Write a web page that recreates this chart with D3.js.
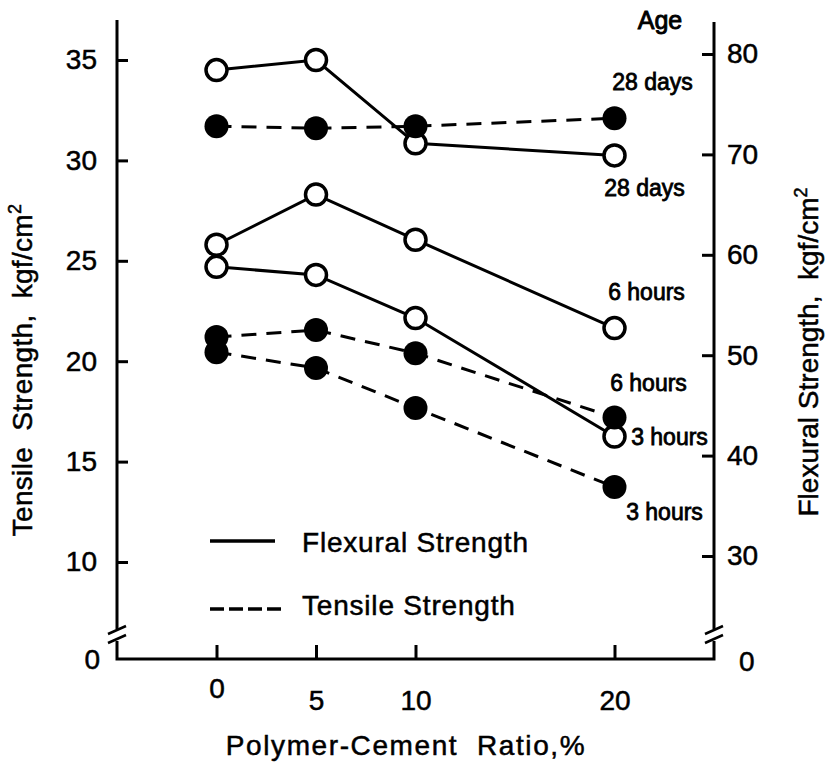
<!DOCTYPE html>
<html><head><meta charset="utf-8">
<script src="https://cdn.jsdelivr.net/npm/d3@7/dist/d3.min.js"></script>
<style>
body{margin:0;background:#fff;}
svg{display:block;font-family:"Liberation Sans",Arial,Helvetica,sans-serif;}
svg text{white-space:pre;stroke:#000;stroke-width:0.5px;}
</style></head><body>
<svg id="c" width="832" height="768"></svg>
<script>
// ---------- data ----------
const ratios = [0, 5, 10, 20];                 // polymer-cement ratio, %
const xTicks = [0, 5, 10, 20];
const leftTicks = [10, 15, 20, 25, 30, 35];    // tensile, kgf/cm2
const rightTicks = [30, 40, 50, 60, 70, 80];   // flexural, kgf/cm2
const breakTickLabel = "0";

const flex28d = [78.4, 79.4, 71.1, 69.9];
const flex6h  = [61.0, 66.0, 61.5, 52.7];
const flex3h  = [58.8, 58.0, 53.7, 41.9];
const tens28d = [31.7, 31.6, 31.7, 32.1];
const tens6h  = [21.2, 21.55, 20.4, 17.2];
const tens3h  = [20.45, 19.66, 17.67, 13.73];

const ageLabels = ["28 days", "6 hours", "3 hours"];
const legendLabels = ["Flexural Strength", "Tensile Strength"];

// ---------- layout ----------
const svg = d3.select("#c");
const axisBottomY = 659;
const x = d3.scaleLinear().domain([-5, 25]).range([117, 714]);
const yL = d3.scaleLinear().domain([10, 35]).range([562, 60]);
const yR = d3.scaleLinear().domain([30, 80]).range([556, 54]);
const leftX = x(-5), rightX = x(25);

const flexSeries = [
  {vals: flex28d, label: ageLabels[0], dx: 30, dy: 33},
  {vals: flex6h,  label: ageLabels[1], dx: 32, dy: -36},
  {vals: flex3h,  label: ageLabels[2], dx: 55, dy: 0}
];
const tensSeries = [
  {vals: tens28d, label: ageLabels[0], dx: 38, dy: -36},
  {vals: tens6h,  label: ageLabels[1], dx: 34, dy: -34},
  {vals: tens3h,  label: ageLabels[2], dx: 50, dy: 25}
];

const FS = 28;

// ---------- axes ----------
const gL = svg.append("g").attr("transform", `translate(${leftX},0)`)
  .call(d3.axisLeft(yL).tickValues(leftTicks).tickSizeInner(-11).tickSizeOuter(0).tickPadding(20));
const gR = svg.append("g").attr("transform", `translate(${rightX},0)`)
  .call(d3.axisRight(yR).tickValues(rightTicks).tickSizeInner(-12).tickSizeOuter(0).tickPadding(13));
const gB = svg.append("g").attr("transform", `translate(0,${axisBottomY})`)
  .call(d3.axisBottom(x).tickValues(xTicks).tickSizeInner(-14).tickSizeOuter(0).tickPadding(31));
[gL, gR, gB].forEach(g => {
  g.select(".domain").remove();
  g.selectAll(".tick line").attr("stroke", "#000").attr("stroke-width", 3);
  g.selectAll(".tick text").attr("fill", "#000").attr("font-size", FS).attr("font-family", null);
  g.attr("font-family", null).attr("font-size", null);
});
gB.selectAll(".tick text").filter(d => d === 0).attr("y", 19);

// axis lines with breaks
const ax = svg.append("g").attr("stroke", "#000").attr("stroke-width", 3).attr("fill", "none");
ax.append("path").attr("d", `M${leftX},20 V629 M${leftX},641 V${axisBottomY} H${rightX} V641 M${rightX},629 V22`);
// break slashes
[[leftX, 630], [leftX, 639], [rightX, 630], [rightX, 639]].forEach(([bx, by]) => {
  ax.append("line").attr("x1", bx - 9).attr("y1", by + 4).attr("x2", bx + 9).attr("y2", by - 4)
    .attr("stroke-width", 2.5);
});
// zero labels at break
svg.append("text").attr("x", 100).attr("y", axisBottomY).attr("dy", "0.35em")
  .attr("text-anchor", "end").attr("font-size", FS).text(breakTickLabel);
svg.append("text").attr("x", 739).attr("y", axisBottomY + 2).attr("dy", "0.35em")
  .attr("text-anchor", "start").attr("font-size", FS).text(breakTickLabel);

// ---------- lines ----------
const lineF = d3.line().x((d, i) => x(ratios[i])).y(d => yR(d));
const lineT = d3.line().x((d, i) => x(ratios[i])).y(d => yL(d));
const lines = svg.append("g").attr("fill", "none").attr("stroke", "#000").attr("stroke-width", 3);
flexSeries.forEach(s => lines.append("path").attr("d", lineF(s.vals)));
tensSeries.forEach(s => lines.append("path").attr("d", lineT(s.vals)).attr("stroke-dasharray", "15,10"));

// ---------- markers ----------
const mk = svg.append("g");
flexSeries.forEach(s => {
  mk.selectAll(null).data(s.vals).enter().append("circle")
    .attr("cx", (d, i) => x(ratios[i])).attr("cy", d => yR(d)).attr("r", 10.5)
    .attr("fill", "#fff").attr("stroke", "#000").attr("stroke-width", 3.5);
});
tensSeries.forEach(s => {
  mk.selectAll(null).data(s.vals).enter().append("circle")
    .attr("cx", (d, i) => x(ratios[i])).attr("cy", d => yL(d)).attr("r", 12)
    .attr("fill", "#000");
});

// ---------- age labels ----------
const lab = svg.append("g").attr("font-size", 23).attr("text-anchor", "middle");
const last = ratios.length - 1;
flexSeries.forEach(s => lab.append("text")
  .attr("x", x(ratios[last]) + s.dx).attr("y", yR(s.vals[last]) + s.dy).attr("dy", "0.35em").text(s.label));
tensSeries.forEach(s => lab.append("text")
  .attr("x", x(ratios[last]) + s.dx).attr("y", yL(s.vals[last]) + s.dy).attr("dy", "0.35em").text(s.label));
lab.selectAll("text").style("stroke-width", "0.8px");
svg.append("text").attr("x", 660).attr("y", 20).attr("dy", "0.35em").attr("text-anchor", "middle")
  .attr("font-size", 25).style("stroke-width", "0.9px").text("Age");

// ---------- legend ----------
const lg = svg.append("g");
lg.append("line").attr("x1", 210).attr("x2", 275).attr("y1", 541).attr("y2", 541)
  .attr("stroke", "#000").attr("stroke-width", 3.5);
lg.append("line").attr("x1", 210).attr("x2", 283).attr("y1", 609).attr("y2", 609)
  .attr("stroke", "#000").attr("stroke-width", 3.5).attr("stroke-dasharray", "14,5");
lg.append("text").attr("x", 302).attr("y", 542).attr("dy", "0.35em").attr("font-size", FS)
  .attr("letter-spacing", 0.8).text(legendLabels[0]);
lg.append("text").attr("x", 302).attr("y", 605).attr("dy", "0.35em").attr("font-size", FS)
  .attr("letter-spacing", 0.8).text(legendLabels[1]);

// ---------- axis titles ----------
const lt = svg.append("text").attr("transform", "translate(22,370) rotate(-90)")
  .attr("text-anchor", "middle").attr("dy", "0.35em").attr("font-size", FS).attr("letter-spacing", 0.3);
lt.append("tspan").text("Tensile  Strength,  kgf/cm");
lt.append("tspan").attr("font-size", 18).attr("dy", "-0.6em").text("2");
const rt = svg.append("text").attr("transform", "translate(808,352) rotate(-90)")
  .attr("text-anchor", "middle").attr("dy", "0.35em").attr("font-size", FS);
rt.append("tspan").text("Flexural Strength,  kgf/cm");
rt.append("tspan").attr("font-size", 18).attr("dy", "-0.6em").text("2");
svg.append("text").attr("x", 406).attr("y", 745).attr("dy", "0.35em").attr("text-anchor", "middle")
  .attr("font-size", FS).attr("letter-spacing", 1.6).text("Polymer-Cement  Ratio,%");
</script>
</body></html>
